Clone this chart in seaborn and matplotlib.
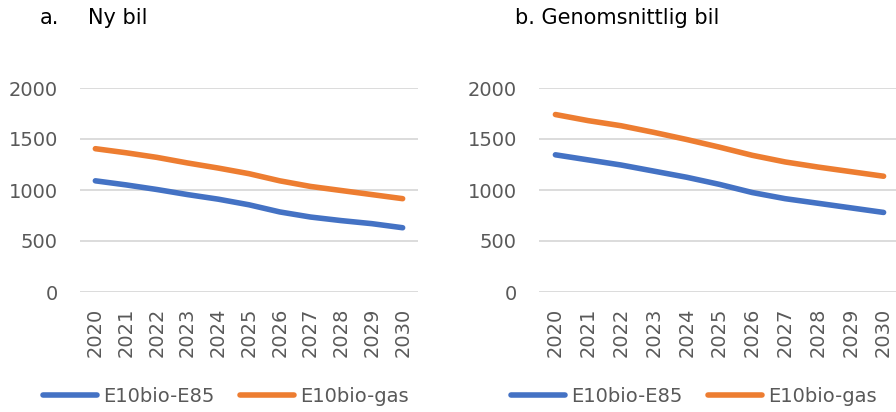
import matplotlib
matplotlib.use("Agg")
import matplotlib.pyplot as plt
import seaborn as sns
import pandas as pd
from matplotlib.lines import Line2D

years = [2020, 2021, 2022, 2023, 2024, 2025, 2026, 2027, 2028, 2029, 2030]
new_e85 = [1090, 1050, 1005, 955, 910, 855, 785, 735, 700, 670, 630]
new_gas = [1405, 1365, 1320, 1265, 1215, 1160, 1090, 1035, 995, 955, 915]
avg_e85 = [1345, 1295, 1245, 1185, 1125, 1055, 975, 915, 870, 825, 780]
avg_gas = [1740, 1680, 1630, 1565, 1495, 1420, 1340, 1275, 1225, 1180, 1135]
series_names = ["E10bio-E85", "E10bio-gas"]
colors = ["#4472C4", "#ED7D31"]
yticks = [0, 500, 1000, 1500, 2000]

sns.set_theme(style="white")
plt.rcParams["font.family"] = ["DejaVu Sans"]

fig = plt.figure(figsize=(8.96, 4.12), dpi=100)
W, H = 896, 412

def px_axes(x0, x1, y0, y1):
    return fig.add_axes([x0 / W, 1 - y1 / H, (x1 - x0) / W, (y1 - y0) / H])

ax1 = px_axes(80, 418, 88, 292)
ax2 = px_axes(539, 900, 88, 292)

LW = 4.0
for ax, e85, gas in [(ax1, new_e85, new_gas), (ax2, avg_e85, avg_gas)]:
    df = pd.DataFrame({
        "idx": list(range(len(years))) * 2,
        "value": e85 + gas,
        "series": [series_names[0]] * len(years) + [series_names[1]] * len(years),
    })
    sns.lineplot(data=df, x="idx", y="value", hue="series", palette=colors,
                 linewidth=LW, ax=ax, legend=False)
    ax.set_xlim(-0.5, len(years) - 0.5)
    ax.set_ylim(0, 2000)
    ax.set_yticks(yticks)
    ax.set_yticklabels([str(v) for v in yticks])
    ax.set_xticks(range(len(years)))
    ax.set_xticklabels([str(y) for y in years], rotation=90)
    ax.tick_params(axis="both", length=0, labelsize=14, colors="#595959")
    ax.tick_params(axis="y", pad=16)
    ax.tick_params(axis="x", pad=11)
    ax.yaxis.grid(True, color="#D9D9D9", linewidth=1.3)
    ax.set_axisbelow(True)
    for s in ax.spines.values():
        s.set_visible(False)
    ax.set_xlabel("")
    ax.set_ylabel("")
    for line in ax.get_lines():
        line.set_clip_on(False)
        line.set_solid_capstyle("round")

# Titles
fig.text(40 / W, 1 - 18 / H, "a.", fontsize=15, va="center", color="#000000")
fig.text(88 / W, 1 - 18 / H, "Ny bil", fontsize=15, va="center", color="#000000")
fig.text(515 / W, 1 - 18 / H, "b. Genomsnittlig bil", fontsize=15, va="center", color="#000000")

# Legends
handles = [Line2D([0], [0], color=c, linewidth=LW, solid_capstyle="round") for c in colors]
for xpos in [43, 511]:
    fig.legend(handles, series_names, loc="center left",
               bbox_to_anchor=(xpos / W, 1 - 396 / H), ncol=2, frameon=False,
               prop={"size": 14}, handlelength=2.8,
               handletextpad=0.3, columnspacing=1.3, labelcolor="#595959",
               borderaxespad=0, borderpad=0)

fig.savefig("out.png", dpi=100)
